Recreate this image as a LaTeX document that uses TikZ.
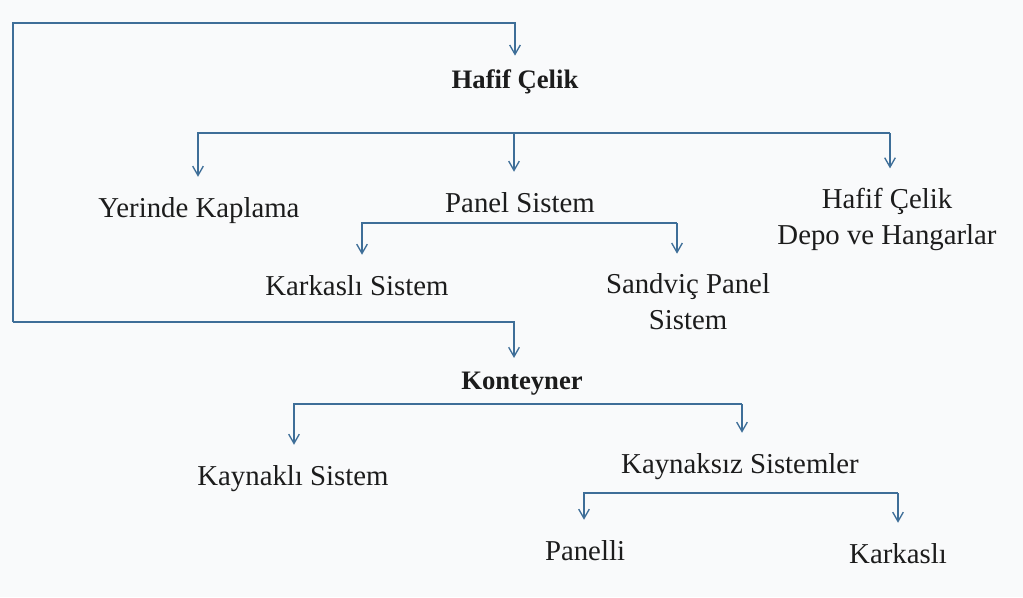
\documentclass[tikz,border=0pt]{standalone}
\usepackage{fontspec}
\setmainfont{Liberation Serif}
\usetikzlibrary{arrows.meta}
\definecolor{oku}{RGB}{62,110,152}
\definecolor{zemin}{RGB}{249,250,251}
\definecolor{yazi}{RGB}{28,28,28}

\begin{document}
\begin{tikzpicture}[x=0.75pt, y=-0.75pt, >={Straight Barb[length=7pt,width=8pt]},
    hat/.style={oku, line width=1pt},
    etiket/.style={anchor=base, inner xsep=0pt, inner ysep=15pt, align=center, text=yazi,
      font=\fontsize{21.6}{26.3}\selectfont},
    baslik/.style={etiket, inner ysep=10pt, font=\fontsize{20}{24}\selectfont\bfseries}]
    \fill[zemin] (0,0) rectangle (1023,597);

    \node[baslik] (hafif) at (515,88) {Hafif Çelik};
    \node[etiket] (yerinde) at (199,217) {Yerinde Kaplama};
    \node[etiket] (panel) at (520,212) {Panel Sistem};
    \node[etiket] (depo) at (887,244) {Hafif Çelik\\Depo ve Hangarlar};
    \node[etiket] (karkas) at (357,295) {Karkaslı Sistem};
    \node[etiket] (sandvic) at (688,329) {Sandviç Panel\\Sistem};
    \node[baslik] (kont) at (522,389) {Konteyner};
    \node[etiket] (kaynakli) at (293,485) {Kaynaklı Sistem};
    \node[etiket] (kaynaksiz) at (740,473) {Kaynaksız Sistemler};
    \node[etiket] (panelli) at (585,560) {Panelli};
    \node[etiket] (karkasli) at (898,563) {Karkaslı};

    \coordinate (ust) at (13,23);
    \coordinate (alt) at (13,322);
    \coordinate (k0) at (514,322);
    \draw[hat, ->] (alt) -- (ust) -| (hafif);
    \draw[hat, ->] (alt) -- (k0) -- (k0 |- kont.north);

    \coordinate (d1a) at (198,133);
    \coordinate (d1m) at (514,133);
    \coordinate (d1b) at (890,133);
    \draw[hat, ->] (d1b) -- (d1a) -- (d1a |- yerinde.north);
    \draw[hat, ->] (d1m) -- (d1m |- panel.north);
    \draw[hat, ->] (d1b) -- (d1b |- depo.north);

    \coordinate (d2a) at (362,223);
    \coordinate (d2b) at (677,223);
    \draw[hat, ->] (d2b) -- (d2a) -- (d2a |- karkas.north);
    \draw[hat, ->] (d2b) -- (d2b |- sandvic.north);

    \coordinate (d3a) at (294,404);
    \coordinate (d3b) at (742,404);
    \draw[hat, ->] (d3b) -- (d3a) -- (d3a |- kaynakli.north);
    \draw[hat, ->] (d3b) -- (d3b |- kaynaksiz.north);

    \coordinate (d4a) at (584,493);
    \coordinate (d4b) at (898,493);
    \draw[hat, ->] (d4b) -- (d4a) -- (d4a |- panelli.north);
    \draw[hat, ->] (d4b) -- (d4b |- karkasli.north);
\end{tikzpicture}
\end{document}
